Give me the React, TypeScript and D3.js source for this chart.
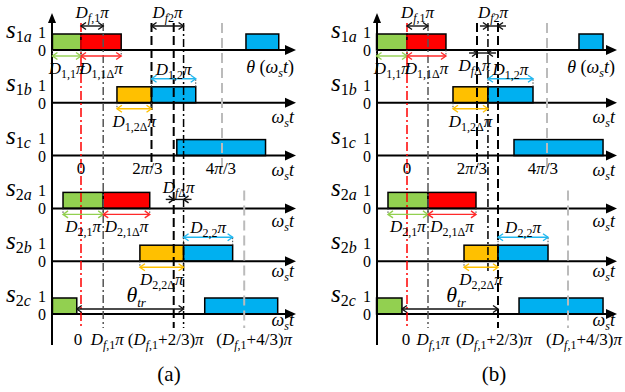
import React, { useEffect, useRef } from "react";
import * as d3 from "d3";

const FONT = "Liberation Serif, Times New Roman, serif";

// switching-state rows, top to bottom
const rows = ["1a", "1b", "1c", "2a", "2b", "2c"];
const rowAxisLabels = ["θ (ω_{s}t)", "ω_{s}t", "ω_{s}t", "ω_{s}t", "ω_{s}t", "ω_{s}t"];
const midTicks = [0, 2 / 3, 4 / 3];
const midTickLabels = ["0", "2π/3", "4π/3"];
const bottomTickLabels = ["0", "D_{f,1}π", "(D_{f,1}+2/3)π", "(D_{f,1}+4/3)π"];

// all angles are in units of π
// ---- panel (a)
const df1A = 0.21;
const bottomTicksA = [0, df1A, df1A + 2 / 3, df1A + 4 / 3];
const pulsesA = [
  { row: "1a", from: -0.27, to: 0, kind: "D1" },
  { row: "1a", from: 0, to: 0.38, kind: "D1Δ" },
  { row: "1a", from: 1.56, to: 1.87, kind: "D2" },
  { row: "1b", from: 0.34, to: 0.667, kind: "D2Δ" },
  { row: "1b", from: 0.667, to: 1.085, kind: "D2" },
  { row: "1c", from: 0.906, to: 1.745, kind: "D2" },
  { row: "2a", from: -0.17, to: 0.21, kind: "D1" },
  { row: "2a", from: 0.21, to: 0.65, kind: "D1Δ" },
  { row: "2b", from: 0.557, to: 0.97, kind: "D2Δ" },
  { row: "2b", from: 0.97, to: 1.434, kind: "D2" },
  { row: "2c", from: -0.27, to: -0.04, kind: "D1" },
  { row: "2c", from: 1.17, to: 1.86, kind: "D2" },
];
const dimsA = [
  { row: "1a", from: 0, to: 0.21, label: "D_{f,1}π", kind: "f", side: "top", heads: "out" },
  { row: "1a", from: 0.667, to: 0.97, label: "D_{f2}π", kind: "f", side: "top", heads: "out" },
  { row: "1a", from: -0.27, to: 0, label: "D_{1,1}π", kind: "D1", side: "below", heads: "out" },
  { row: "1a", from: 0, to: 0.38, label: "D_{1,1Δ}π", kind: "D1Δ", side: "below", heads: "out" },
  { row: "1b", from: 0.667, to: 1.085, label: "D_{1,2}π", kind: "D2", side: "above", heads: "out" },
  { row: "1b", from: 0.34, to: 0.667, label: "D_{1,2Δ}π", kind: "D2Δ", side: "below", heads: "out" },
  { row: "2a", from: -0.17, to: 0.21, label: "D_{2,1}π", kind: "D1", side: "below", heads: "out" },
  { row: "2a", from: 0.21, to: 0.65, label: "D_{2,1Δ}π", kind: "D1Δ", side: "below", heads: "out" },
  { row: "2a", from: 0.877, to: 0.97, label: "D_{fΔ}π", kind: "f", side: "mid", heads: "in" },
  { row: "2b", from: 0.97, to: 1.434, label: "D_{2,2}π", kind: "D2", side: "above", heads: "out" },
  { row: "2b", from: 0.557, to: 0.97, label: "D_{2,2Δ}π", kind: "D2Δ", side: "below", heads: "out" },
  { row: "2c", from: -0.04, to: 0.97, label: "θ_{tr}", kind: "f", side: "low", heads: "out" },
];
const guidesA = [
  { at: 0, kind: "zero", from: "1a", to: "2c" },
  { at: df1A, kind: "df", from: "1a", to: "2c" },
  { at: 2 / 3, kind: "dash", from: "1a", to: "1c" },
  { at: df1A + 2 / 3, kind: "dash", from: "1a", to: "2c" },
  { at: 0.97, kind: "dashdot", from: "1a", to: "2c" },
  { at: 4 / 3, kind: "gray", from: "1a", to: "1c" },
  { at: df1A + 4 / 3, kind: "gray", from: "2a", to: "2c" },
];

// ---- panel (b)
const df1B = 0.2;
const bottomTicksB = [0, df1B, df1B + 2 / 3, df1B + 4 / 3];
const pulsesB = [
  { row: "1a", from: -0.29, to: 0, kind: "D1" },
  { row: "1a", from: 0, to: 0.371, kind: "D1Δ" },
  { row: "1a", from: 1.638, to: 1.867, kind: "D2" },
  { row: "1b", from: 0.438, to: 0.771, kind: "D2Δ" },
  { row: "1b", from: 0.771, to: 1.2, kind: "D2" },
  { row: "1c", from: 1.019, to: 1.867, kind: "D2" },
  { row: "2a", from: -0.181, to: 0.2, kind: "D1" },
  { row: "2a", from: 0.2, to: 0.657, kind: "D1Δ" },
  { row: "2b", from: 0.543, to: 0.867, kind: "D2Δ" },
  { row: "2b", from: 0.867, to: 1.343, kind: "D2" },
  { row: "2c", from: -0.29, to: -0.048, kind: "D1" },
  { row: "2c", from: 1.067, to: 1.867, kind: "D2" },
];
const dimsB = [
  { row: "1a", from: 0, to: 0.2, label: "D_{f,1}π", kind: "f", side: "top", heads: "out" },
  { row: "1a", from: 0.771, to: 0.867, label: "D_{f2}π", kind: "f", side: "top", heads: "in" },
  { row: "1a", from: 0.667, to: 0.771, label: "D_{fΔ}π", kind: "f", side: "under", heads: "in" },
  { row: "1a", from: -0.29, to: 0, label: "D_{1,1}π", kind: "D1", side: "below", heads: "out" },
  { row: "1a", from: 0, to: 0.371, label: "D_{1,1Δ}π", kind: "D1Δ", side: "below", heads: "out" },
  { row: "1b", from: 0.771, to: 1.2, label: "D_{1,2}π", kind: "D2", side: "above", heads: "out" },
  { row: "1b", from: 0.438, to: 0.771, label: "D_{1,2Δ}π", kind: "D2Δ", side: "below", heads: "out" },
  { row: "2a", from: -0.181, to: 0.2, label: "D_{2,1}π", kind: "D1", side: "below", heads: "out" },
  { row: "2a", from: 0.2, to: 0.657, label: "D_{2,1Δ}π", kind: "D1Δ", side: "below", heads: "out" },
  { row: "2b", from: 0.867, to: 1.343, label: "D_{2,2}π", kind: "D2", side: "above", heads: "out" },
  { row: "2b", from: 0.543, to: 0.867, label: "D_{2,2Δ}π", kind: "D2Δ", side: "below", heads: "out" },
  { row: "2c", from: -0.048, to: 0.867, label: "θ_{tr}", kind: "f", side: "low", heads: "out" },
];
const guidesB = [
  { at: 0, kind: "zero", from: "1a", to: "2c" },
  { at: df1B, kind: "df", from: "1a", to: "2c" },
  { at: 2 / 3, kind: "dash", from: "1a", to: "1c" },
  { at: 0.771, kind: "dashdot", from: "1a", to: "2b" },
  { at: df1B + 2 / 3, kind: "dash", from: "1a", to: "2c" },
  { at: 4 / 3, kind: "gray", from: "1a", to: "1c" },
  { at: df1B + 4 / 3, kind: "gray", from: "2a", to: "2c" },
];

// layout
const panels = [
  {
    caption: "(a)", pulses: pulsesA, dims: dimsA, guides: guidesA, bottomTicks: bottomTicksA,
    origin: 52, end: 296, zero: 81, fourThirds: 222, captionX: 169,
    bottomDx: [-3, 4, -8, 10], midDx: [0, -4, -1], nudge: {} as Record<string, number>,
  },
  {
    caption: "(b)", pulses: pulsesB, dims: dimsB, guides: guidesB, bottomTicks: bottomTicksB,
    origin: 377, end: 617, zero: 407, fourThirds: 547, captionX: 494,
    bottomDx: [-1, 5, -4, 16], midDx: [0, -5, -4], nudge: { "D_{fΔ}π": -8 } as Record<string, number>,
  },
];

const axisLabelDy = [23, 20, 20, 19, 16, 12];

const sideOffsets: Record<string, [number, number]> = {
  top: [-24, -32],
  below: [6, 24],
  under: [3, 21],
  above: [-24, -28],
  mid: [-9, -15],
  low: [-5, -12],
};

const kinds = ["D1", "D1Δ", "D2Δ", "D2", "f"];
const fill = d3.scaleOrdinal<string, string>().domain(kinds)
  .range(["#92D050", "#FF0000", "#FFC000", "#00B0F0", "#000000"]);
const arrowCol = d3.scaleOrdinal<string, string>().domain(kinds)
  .range(["#92D050", "#FF2A2A", "#FFC000", "#22B8F0", "#111111"]);

const guideStyle: Record<string, { stroke: string; dash: string; width: number }> = {
  zero: { stroke: "#FF0000", dash: "9,3,2,3", width: 1.5 },
  df: { stroke: "#555555", dash: "8,3,2,3", width: 1.5 },
  dash: { stroke: "#000000", dash: "9,4", width: 2 },
  dashdot: { stroke: "#000000", dash: "8,3,2,3", width: 1.5 },
  gray: { stroke: "#BBBBBB", dash: "10,5", width: 2 },
};

const ITALIC = /[A-Za-zπθω]/;

function mathText(g: any, str: string, x: number, y: number, size: number,
  anchor = "middle", subSize = size * 0.7, shift = size * 0.25) {
  const t = g.append("text")
    .attr("x", x).attr("y", y)
    .style("font-family", FONT).attr("font-size", size)
    .attr("text-anchor", anchor).attr("fill", "#000");
  const parts: { s: string; sub: boolean }[] = [];
  const re = /_\{([^}]*)\}/g;
  let last = 0;
  let m: RegExpExecArray | null;
  while ((m = re.exec(str))) {
    if (m.index > last) parts.push({ s: str.slice(last, m.index), sub: false });
    parts.push({ s: m[1], sub: true });
    last = re.lastIndex;
  }
  if (last < str.length) parts.push({ s: str.slice(last), sub: false });
  let inSub = false;
  parts.forEach((p) => {
    const runs = p.s.match(/[A-Za-zπθω]+|[^A-Za-zπθω]+/g) || [];
    runs.forEach((r) => {
      const ts = t.append("tspan").text(r)
        .attr("font-size", p.sub ? subSize : size)
        .attr("font-style", ITALIC.test(r) ? "italic" : "normal");
      if (p.sub !== inSub) {
        ts.attr("dy", p.sub ? shift : -shift);
        inSub = p.sub;
      }
    });
  });
  return t;
}

function head(g: any, x: number, y: number, dir: number, color: string) {
  g.append("path")
    .attr("d", `M${x - dir * 5},${y - 3.5}L${x},${y}L${x - dir * 5},${y + 3.5}`)
    .attr("fill", "none").attr("stroke", color).attr("stroke-width", 1.4);
}

function drawPanel(root: any, p: (typeof panels)[number]) {
  const g = root.append("g");
  const x = d3.scaleLinear().domain([0, 4 / 3]).range([p.zero, p.fourThirds]);
  const y = d3.scalePoint<string>().domain(rows).range([50, 314]);
  const H = 16;
  const yb = (r: string) => y(r) as number;

  // pulses
  g.selectAll("rect.pulse").data(p.pulses).join("rect")
    .attr("class", "pulse")
    .attr("x", (d: any) => x(d.from))
    .attr("y", (d: any) => yb(d.row) - H)
    .attr("width", (d: any) => x(d.to) - x(d.from))
    .attr("height", H)
    .attr("fill", (d: any) => fill(d.kind))
    .attr("stroke", "#000").attr("stroke-width", 1.5);

  // vertical axis
  g.append("line").attr("x1", p.origin).attr("x2", p.origin)
    .attr("y1", 21).attr("y2", 345).attr("stroke", "#000").attr("stroke-width", 2);
  g.append("path").attr("d", `M${p.origin},13L${p.origin - 4},23L${p.origin + 4},23Z`).attr("fill", "#000");

  // horizontal axes
  rows.forEach((r, i) => {
    const b = yb(r);
    g.append("line").attr("x1", p.origin).attr("x2", p.end - 9)
      .attr("y1", b).attr("y2", b).attr("stroke", "#000").attr("stroke-width", 2);
    g.append("path").attr("d", `M${p.end},${b}L${p.end - 11},${b - 5}L${p.end - 11},${b + 5}Z`).attr("fill", "#000");
    mathText(g, `s_{${r}}`, p.origin - 46, b - 12, 25, "start", 16, 4);
    mathText(g, "1", p.origin - 10, b - 12, 16);
    mathText(g, "0", p.origin - 10, b + 6, 16);
    mathText(g, rowAxisLabels[i], p.end - 2, b + axisLabelDy[i], 18, "end", 12, 4);
  });

  // guide lines
  p.guides.forEach((gd) => {
    const s = guideStyle[gd.kind];
    g.append("line")
      .attr("x1", x(gd.at)).attr("x2", x(gd.at))
      .attr("y1", yb(gd.from) - (gd.from === "1a" ? 27 : 18))
      .attr("y2", yb(gd.to) + (gd.to === "2c" ? 14 : 12))
      .attr("stroke", s.stroke).attr("stroke-width", s.width)
      .attr("stroke-dasharray", s.dash);
  });

  // dimension arrows
  p.dims.forEach((d) => {
    const b = yb(d.row);
    const [ay, ly] = sideOffsets[d.side];
    const yA = b + ay;
    const x1 = x(d.from);
    const x2 = x(d.to);
    const c = arrowCol(d.kind);
    if (d.kind !== "f") {
      [x1, x2].forEach((xx) => {
        const yEdge = ay > 0 ? b : b - H;
        g.append("line").attr("x1", xx).attr("x2", xx)
          .attr("y1", yEdge).attr("y2", yA)
          .attr("stroke", "#444").attr("stroke-width", 1).attr("stroke-dasharray", "1.5,1.5");
      });
    }
    if (d.heads === "in") {
      g.append("line").attr("x1", x1 - 8).attr("x2", x2 + 8).attr("y1", yA).attr("y2", yA)
        .attr("stroke", c).attr("stroke-width", 1.4);
      head(g, x1, yA, 1, c);
      head(g, x2, yA, -1, c);
    } else {
      g.append("line").attr("x1", x1).attr("x2", x2).attr("y1", yA).attr("y2", yA)
        .attr("stroke", c).attr("stroke-width", 1.4);
      head(g, x1, yA, -1, c);
      head(g, x2, yA, 1, c);
    }
    const cx = (x1 + x2) / 2 + (p.nudge[d.label] || 0);
    if (d.label.startsWith("θ")) mathText(g, d.label, cx + 6, b + ly, 22, "middle", 13, 5);
    else mathText(g, d.label, cx, b + ly, 17, "middle", 12, 4);
  });

  // tick labels
  midTicks.forEach((t, i) => {
    mathText(g, midTickLabels[i], x(t) + p.midDx[i], yb("1c") + 18, 17);
  });
  p.bottomTicks.forEach((t, i) => {
    mathText(g, bottomTickLabels[i], x(t) + p.bottomDx[i], yb("2c") + 31, 17, "middle", 12, 4);
  });

  g.append("text").attr("x", p.captionX).attr("y", 381)
    .style("font-family", FONT).attr("font-size", 21).attr("text-anchor", "middle")
    .text(p.caption);
}

export default function App() {
  const ref = useRef<SVGSVGElement>(null);

  useEffect(() => {
    const svg = d3.select(ref.current);
    svg.selectAll("*").remove();
    svg.append("rect").attr("width", 625).attr("height", 392).attr("fill", "#fff");
    panels.forEach((p) => drawPanel(svg, p));
  }, []);

  return (
    <svg
      ref={ref}
      width={625}
      height={392}
      style={{ position: "absolute", left: 0, top: 0, fontFamily: FONT }}
    />
  );
}
